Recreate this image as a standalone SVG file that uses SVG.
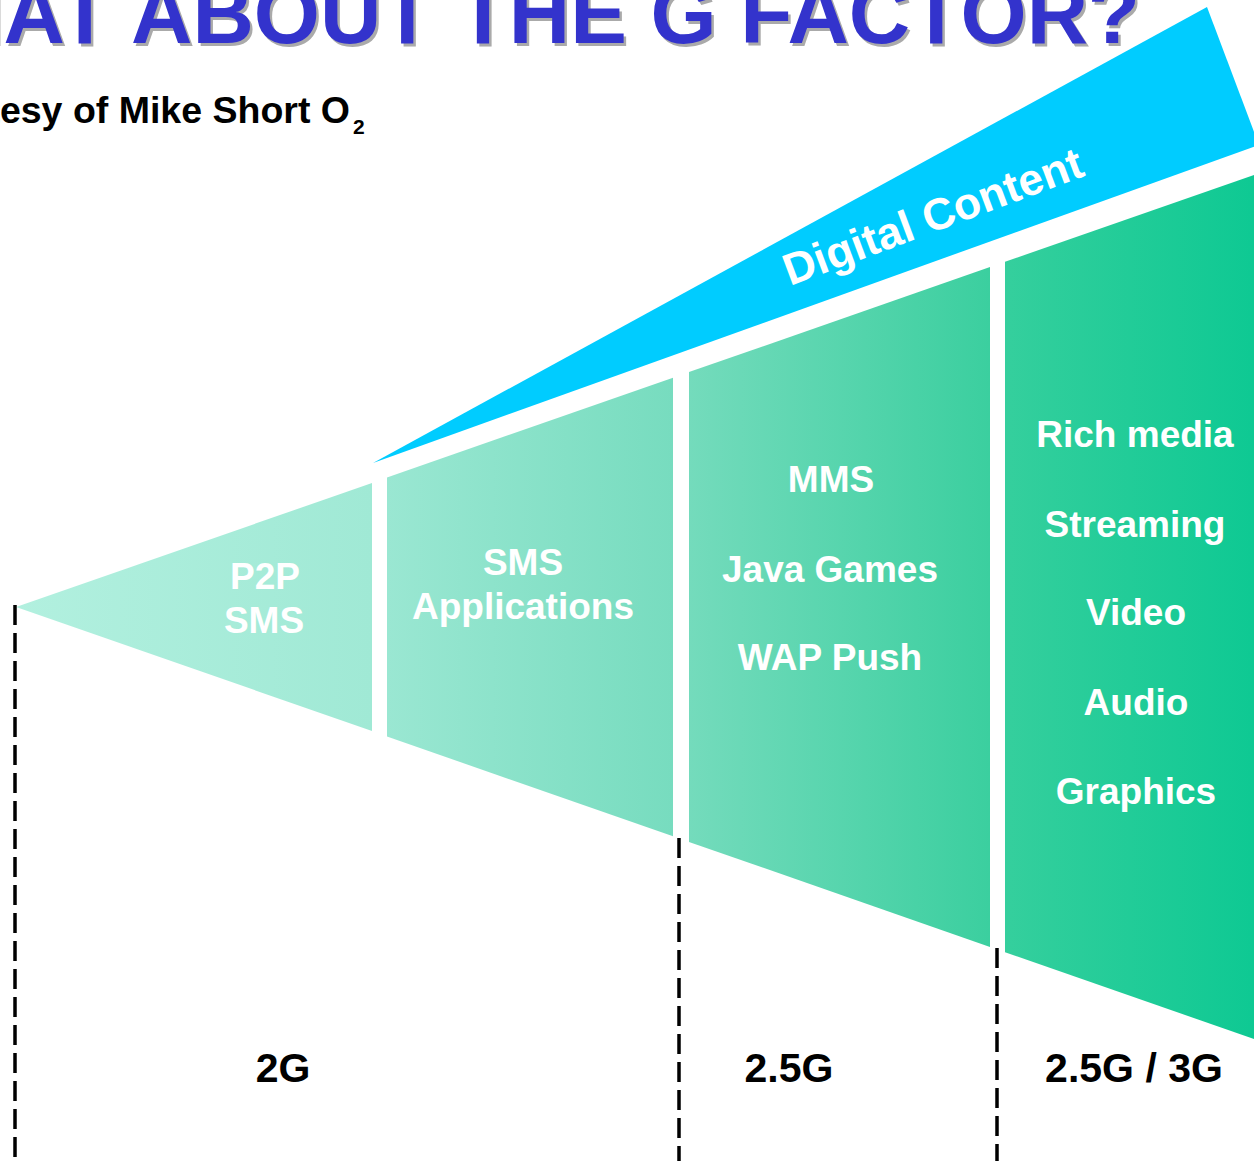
<svg xmlns="http://www.w3.org/2000/svg" width="1254" height="1161" viewBox="0 0 1254 1161">
<style>
.lbl{font-family:"Liberation Sans",Arial,sans-serif;font-weight:bold;fill:#ffffff;text-anchor:middle;font-size:37px}
.gen{font-family:"Liberation Sans",Arial,sans-serif;font-weight:bold;fill:#000000;text-anchor:middle;font-size:41px}
.dash{stroke:#000;stroke-width:3.5;stroke-dasharray:20 8;fill:none}
.title{font-family:"Liberation Sans",Arial,sans-serif;font-weight:bold;font-size:85px}
</style>
<defs>
<linearGradient id="g1" gradientUnits="userSpaceOnUse" x1="16" y1="0" x2="372" y2="0"><stop offset="0" stop-color="#b2f0df"/><stop offset="1" stop-color="#a0e9d5"/></linearGradient>
<linearGradient id="g2" gradientUnits="userSpaceOnUse" x1="387" y1="0" x2="673" y2="0"><stop offset="0" stop-color="#9ae7d2"/><stop offset="1" stop-color="#77dcbf"/></linearGradient>
<linearGradient id="g3" gradientUnits="userSpaceOnUse" x1="689" y1="0" x2="990" y2="0"><stop offset="0" stop-color="#74dbbc"/><stop offset="1" stop-color="#3bcf9f"/></linearGradient>
<linearGradient id="g4" gradientUnits="userSpaceOnUse" x1="1005" y1="0" x2="1254" y2="0"><stop offset="0" stop-color="#35cf9d"/><stop offset="1" stop-color="#0ec993"/></linearGradient>
</defs>
<rect width="1254" height="1161" fill="#ffffff"/>
<g id="title">
<text class="title" x="-135.5" y="45.5" fill="#aaaaaa">WHAT ABOUT THE G FACTOR?</text>
<text class="title" x="-138" y="43" fill="#3333cc">WHAT ABOUT THE G FACTOR?</text>
</g>
<g id="subtitle" font-family="Liberation Sans, Arial, sans-serif" font-weight="bold" fill="#000">
<text x="350" y="123" font-size="37.5" text-anchor="end">Courtesy of Mike Short O</text>
<text x="353" y="134" font-size="21">2</text>
</g>
<g id="digital-content">
<polygon points="373,463 1207,7 1259,145" fill="#00ccff"/>
<text x="790" y="286" transform="rotate(-20.5 790 286)" font-family="Liberation Sans, Arial, sans-serif" font-weight="bold" font-size="44.5" fill="#ffffff">Digital Content</text>
</g>
<g id="seg-2g-p2p">
<polygon points="16,607 372,483 372,731" fill="url(#g1)"/>
<text class="lbl" x="265" y="589">P2P</text>
<text class="lbl" x="264" y="633">SMS</text>
</g>
<g id="seg-2g-apps">
<polygon points="387,477.5 673,377.7 673,836.3 387,736.5" fill="url(#g2)"/>
<text class="lbl" x="523" y="575">SMS</text>
<text class="lbl" x="523" y="619">Applications</text>
</g>
<g id="seg-25g">
<polygon points="689,372.1 990,267.1 990,946.9 689,841.9" fill="url(#g3)"/>
<text class="lbl" x="831" y="492">MMS</text>
<text class="lbl" x="830" y="582">Java Games</text>
<text class="lbl" x="830" y="670">WAP Push</text>
</g>
<g id="seg-3g">
<polygon points="1005,261.8 1254,175 1254,1039 1005,952.2" fill="url(#g4)"/>
<text class="lbl" x="1135" y="447">Rich media</text>
<text class="lbl" x="1135" y="537">Streaming</text>
<text class="lbl" x="1136" y="625">Video</text>
<text class="lbl" x="1136" y="715">Audio</text>
<text class="lbl" x="1136" y="804">Graphics</text>
</g>
<g id="connectors">
<line class="dash" x1="15" y1="605" x2="15" y2="1161"/>
<line class="dash" x1="679" y1="838" x2="679" y2="1161"/>
<line class="dash" x1="997" y1="948" x2="997" y2="1161"/>
</g>
<g id="generations">
<text class="gen" x="283" y="1082">2G</text>
<text class="gen" x="789" y="1082">2.5G</text>
<text class="gen" x="1134" y="1082">2.5G / 3G</text>
</g>
</svg>
